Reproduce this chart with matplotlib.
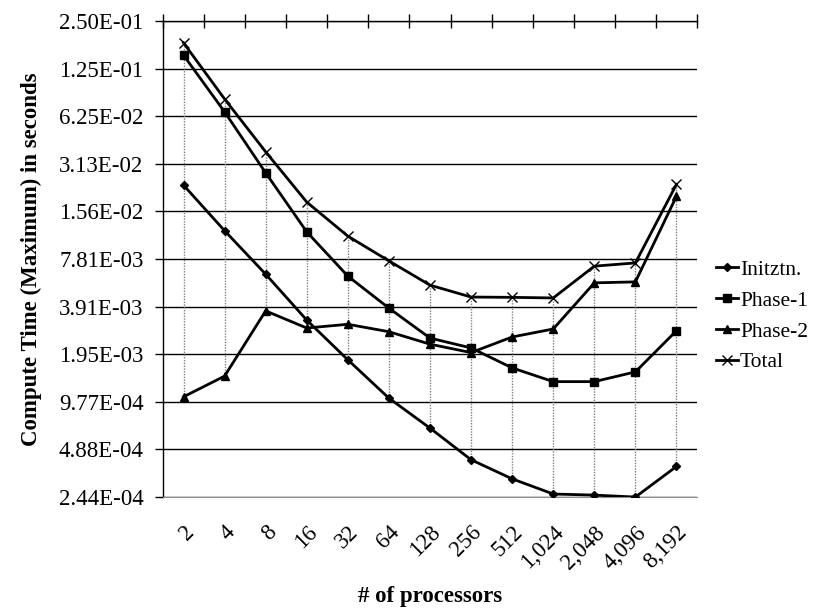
import matplotlib
matplotlib.use("Agg")
import matplotlib.pyplot as plt
import numpy as np

plt.rcParams["font.family"] = ["Liberation Serif", "DejaVu Serif"]

# %%
procs = ["2", "4", "8", "16", "32", "64", "128", "256", "512",
         "1,024", "2,048", "4,096", "8,192"]

initztn = [0.0229, 0.0118, 0.00626, 0.00321, 0.00180, 0.00103, 0.000666,
           0.000420, 0.000318, 0.000255, 0.000251, 0.000244, 0.000381]
phase1 = [0.152, 0.0666, 0.0274, 0.0116, 0.00609, 0.00382, 0.00247,
          0.00214, 0.00160, 0.00131, 0.00131, 0.00151, 0.00275]
phase2 = [0.00105, 0.00142, 0.00367, 0.00286, 0.00302, 0.00271, 0.00226,
          0.00200, 0.00251, 0.00282, 0.00552, 0.00560, 0.0195]
total = [0.182, 0.0803, 0.0372, 0.0179, 0.0109, 0.00760, 0.00534,
         0.00449, 0.00447, 0.00443, 0.00704, 0.00738, 0.0232]

ytick_vals = [2.0 ** k for k in range(-12, -1)]
ytick_labels = ["2.44E-04", "4.88E-04", "9.77E-04", "1.95E-03", "3.91E-03",
                "7.81E-03", "1.56E-02", "3.13E-02", "6.25E-02", "1.25E-01",
                "2.50E-01"]

# %%
fig = plt.figure(figsize=(8.14, 6.09), dpi=100)
ax = fig.add_axes([0.2002, 0.1839, 0.6561, 0.7816])
x = np.arange(len(procs))

# high-low lines
series = np.array([initztn, phase1, phase2, total])
ax.vlines(x, series.min(axis=0), series.max(axis=0), colors="#808080",
          linestyles=(0, (1, 1)), linewidth=1, zorder=2)

ax.plot(x, initztn, color="black", lw=2, marker="D", ms=4, label="Initztn.", zorder=3)
ax.plot(x, phase1, color="black", lw=2, marker="s", ms=6, label="Phase-1", zorder=3)
ax.plot(x, phase2, color="black", lw=2, marker="^", ms=6, label="Phase-2", zorder=3)
ax.plot(x, total, color="black", lw=2, marker="x", ms=7, mew=1, label="Total", zorder=3)

ax.set_yscale("log", base=2)
ax.set_ylim(ytick_vals[0], ytick_vals[-1])
ax.set_yticks(ytick_vals)
ax.set_yticklabels(ytick_labels)
ax.minorticks_off()
ax.yaxis.grid(True, color="black", lw=1)
ax.set_axisbelow(True)

ax.set_xlim(-0.5, len(procs) - 0.5)
ax.set_xticks(x)
ax.set_xticklabels(procs, rotation=45, ha="right", rotation_mode="anchor")
ax.set_xticks(np.arange(-0.5, len(procs)), minor=True)
ax.tick_params(axis="x", which="major", length=0, pad=18, labelsize=16.5)
ax.tick_params(axis="x", which="minor", top=True, bottom=False,
               direction="inout", length=10, width=1)
ax.tick_params(axis="y", labelsize=16.5, length=6, width=1, pad=8)

ax.spines["right"].set_visible(False)
ax.spines["bottom"].set_color("#909090")
ax.spines["left"].set_linewidth(1)
ax.spines["top"].set_linewidth(1)

ax.set_ylabel("Compute Time (Maximum) in seconds", fontsize=16.5,
              fontweight="bold", labelpad=12)
ax.set_xlabel("# of processors", fontsize=16.5, fontweight="bold", labelpad=9)

ax.legend(loc="center left", bbox_to_anchor=(1.0, 0.38), frameon=False,
          fontsize=15.5, handlelength=1.0, handletextpad=0.1, labelspacing=0.5,
          borderaxespad=0.5)

plt.savefig("out.png", dpi=100)
